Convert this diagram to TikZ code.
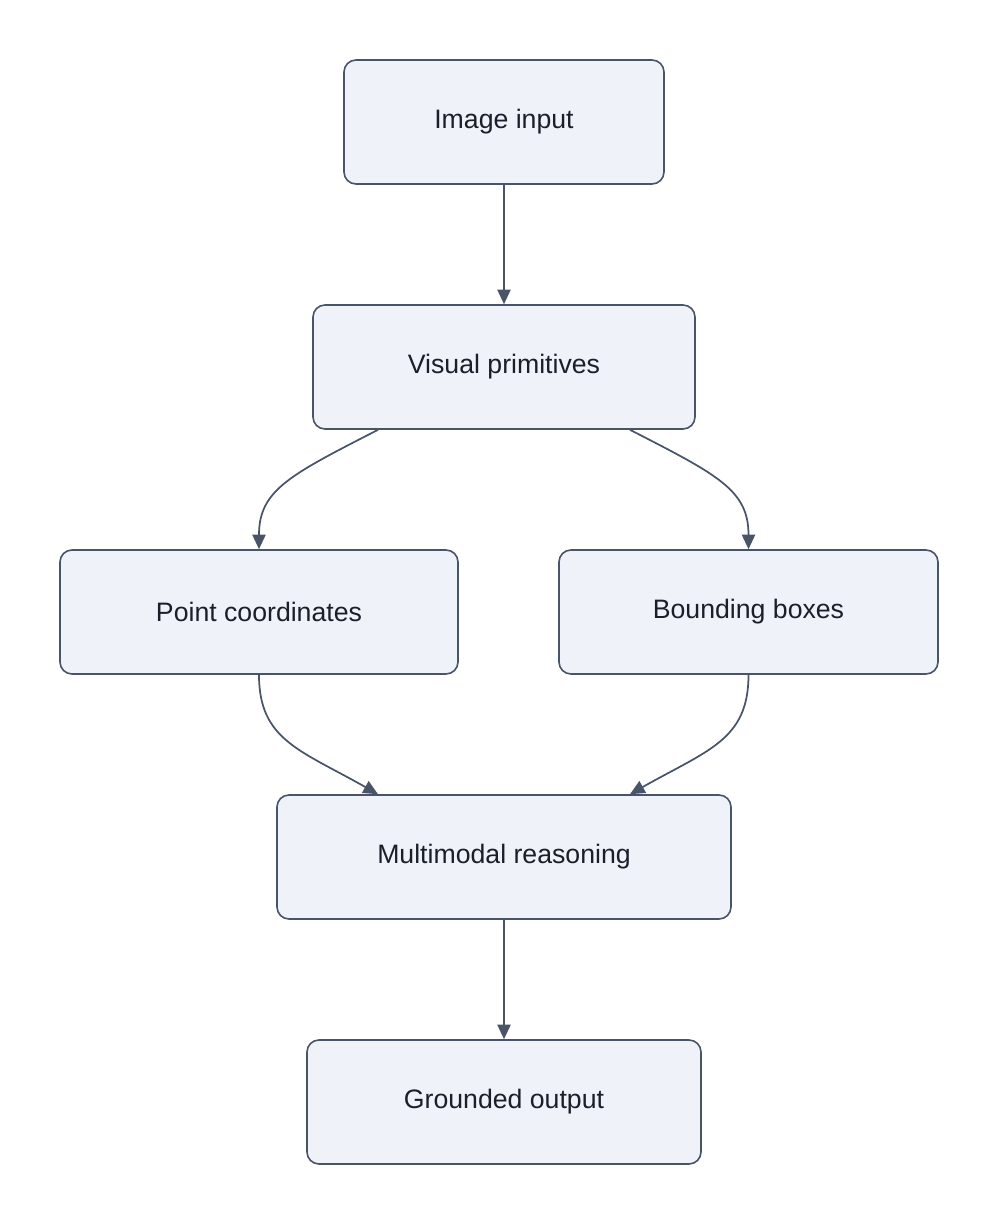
\documentclass[tikz,border=0pt]{standalone}
\usepackage{fontspec}
\setmainfont{Liberation Sans}
\usetikzlibrary{calc,arrows.meta}
\definecolor{boxfill}{HTML}{EFF2F8}
\definecolor{boxline}{HTML}{4A5468}
\definecolor{txt}{HTML}{1A1F2B}
\begin{document}
\begin{tikzpicture}[x=0.75pt,y=-0.75pt,
 box/.style={draw=boxline,fill=boxfill,line width=1.2pt,rounded corners=9pt,
   minimum height=93pt,text=txt,font=\fontsize{20}{24}\selectfont,inner sep=0pt},
 conn/.style={draw=boxline,line width=1.3pt,-{Triangle[length=11pt,width=10pt]}}]
\useasboundingbox (0,0) rectangle (1000,1226);
\node[box,minimum width=240pt] (img) at (504,122) {Image input};
\node[box,minimum width=286.5pt] (vp) at (504,367) {Visual primitives};
\node[box,minimum width=298.5pt] (pc) at (259,612) {Point coordinates};
\node[box,minimum width=284.25pt] (bb) at (748.5,612) {Bounding boxes};
\node[box,minimum width=340.5pt] (mr) at (504,857) {Multimodal reasoning};
\node[box,minimum width=295.5pt] (go) at (504,1102) {Grounded output};
\draw[conn] (img) -- (vp);
\draw[conn] ($(vp.south)+(-126,0)$) .. controls (290,475) and (259,490) .. (pc.north);
\draw[conn] ($(vp.south)+(126,0)$) .. controls (718,475) and (748.5,490) .. (bb.north);
\draw[conn] (pc.south) .. controls (259,740) and (300,750) .. ($(mr.north)+(-126,0)$);
\draw[conn] (bb.south) .. controls (748.5,740) and (708,750) .. ($(mr.north)+(126,0)$);
\draw[conn] (mr) -- (go);
\end{tikzpicture}
\end{document}
